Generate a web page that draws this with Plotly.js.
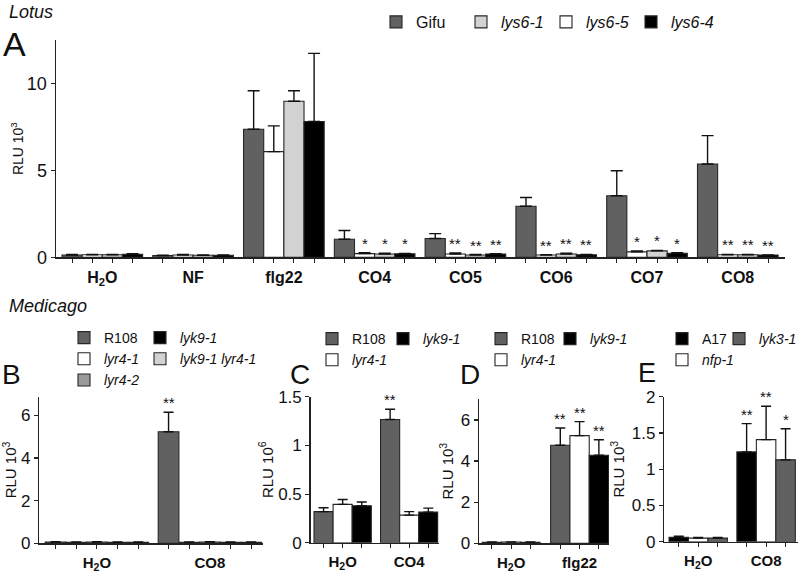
<!DOCTYPE html>
<html><head><meta charset="utf-8">
<script src="https://cdn.plot.ly/plotly-3.0.1.min.js"></script>
<style>html,body{margin:0;padding:0;background:#fff}#chart{width:802px;height:577px}</style>
</head><body><div id="chart"></div>
<script>
// ---------- Panel A (Lotus) ----------
const catsA = ['H<sub>2</sub>O', 'NF', 'flg22', 'CO4', 'CO5', 'CO6', 'CO7', 'CO8'];
const gifuVals  = [0.13, 0.10, 7.37, 1.04, 1.08, 2.94, 3.54, 5.37];
const gifuErr   = [0.03, 0.02, 2.21, 0.50, 0.28, 0.50, 1.44, 1.63];
const gifuSig   = ['', '', '', '', '', '', '', ''];
const lys65Vals = [0.15, 0.13, 6.08, 0.21, 0.19, 0.13, 0.31, 0.15];
const lys65Err  = [0.02, 0.03, 1.48, 0.05, 0.06, 0.02, 0.05, 0.02];
const lys65Sig  = ['', '', '', '*', '**', '**', '*', '**'];
const lys61Vals = [0.15, 0.12, 8.98, 0.19, 0.13, 0.19, 0.37, 0.15];
const lys61Err  = [0.02, 0.02, 0.60, 0.05, 0.03, 0.05, 0.03, 0.02];
const lys61Sig  = ['', '', '', '*', '**', '**', '*', '**'];
const lys64Vals = [0.17, 0.12, 7.81, 0.20, 0.19, 0.15, 0.23, 0.13];
const lys64Err  = [0.03, 0.02, 3.92, 0.02, 0.02, 0.02, 0.03, 0.01];
const lys64Sig  = ['', '', '', '*', '**', '**', '*', '**'];

// ---------- Panel B ----------
const catsB = ['H<sub>2</sub>O', 'CO8'];
const bR108 = [0.06, 5.23], bR108Err = [0.01, 0.91], bR108Sig = ['', '**'];
const bLyr41 = [0.05, 0.05], bLyr41Err = [0.01, 0.01];
const bLyr42 = [0.06, 0.06], bLyr42Err = [0.01, 0.01];
const bLyk91 = [0.05, 0.05], bLyk91Err = [0.01, 0.01];
const bDouble = [0.05, 0.05], bDoubleErr = [0.01, 0.01];

// ---------- Panel C ----------
const catsC = ['H<sub>2</sub>O', 'CO4'];
const cR108 = [0.32, 1.267], cR108Err = [0.04, 0.106], cR108Sig = ['', '**'];
const cLyr41 = [0.394, 0.284], cLyr41Err = [0.051, 0.036];
const cLyk91 = [0.38, 0.315], cLyk91Err = [0.038, 0.041];

// ---------- Panel D ----------
const catsD = ['H<sub>2</sub>O', 'flg22'];
const dR108 = [0.05, 4.77], dR108Err = [0.01, 0.84], dR108Sig = ['', '**'];
const dLyr41 = [0.06, 5.24], dLyr41Err = [0.01, 0.68], dLyr41Sig = ['', '**'];
const dLyk91 = [0.05, 4.28], dLyk91Err = [0.01, 0.76], dLyk91Sig = ['', '**'];

// ---------- Panel E ----------
const catsE = ['H<sub>2</sub>O', 'CO8'];
const eA17 = [0.06, 1.24], eA17Err = [0.015, 0.39], eA17Sig = ['', '**'];
const eNfp1 = [0.05, 1.41], eNfp1Err = [0.01, 0.46], eNfp1Sig = ['', '**'];
const eLyk31 = [0.05, 1.13], eLyk31Err = [0.01, 0.43], eLyk31Sig = ['', '*'];

// ---------- styles ----------
const DARK = '#616161', LIGHT = '#d2d2d2', MID = '#9a9a9a', WHITE = '#ffffff', BLACK = '#000000';
const FONT = 'Liberation Sans, Arial, Helvetica, sans-serif';
const W = 802, H = 577;
const px = v => v / W;
const py = v => 1 - v / H;

const traces = [];
const annotations = [];

function addPanel(cfg) {
  const N = cfg.series.length, w = cfg.barWidth;
  const pos = cfg.cats.map((_, i) => i);
  cfg.series.forEach((s, j) => {
    const off = (j - N / 2) * w;
    traces.push({
      type: 'bar', name: s.name, x: pos, y: s.vals,
      xaxis: cfg.xa, yaxis: cfg.ya, width: w, offset: off,
      marker: { color: s.color, line: { color: '#262626', width: 1.1 } },
      error_y: { type: 'data', symmetric: false, array: s.errs, arrayminus: s.errs.map(() => 0),
                 color: '#111', thickness: 1.4, width: cfg.cap },
      legend: s.legend, legendrank: s.rank || 1000, showlegend: true, hoverinfo: 'skip'
    });
    (s.sig || []).forEach((t, i) => {
      if (!t) return;
      annotations.push({
        xref: cfg.xa, yref: cfg.ya, x: i + off + w / 2, y: s.vals[i] + s.errs[i],
        text: t, showarrow: false, yanchor: 'bottom', xanchor: 'center', yshift: -1,
        font: { size: 15, family: FONT, color: '#111' }
      });
    });
  });
  return pos.flatMap(i => cfg.series.map((_, j) => i + (j - N / 2) * w + w / 2));
}

const minorA = addPanel({ xa: 'x', ya: 'y', cats: catsA, barWidth: 0.222, cap: 6, series: [
  { name: 'Gifu', vals: gifuVals, errs: gifuErr, sig: gifuSig, color: DARK, legend: 'legend', rank: 1 },
  { name: '<i>lys6-5</i>', vals: lys65Vals, errs: lys65Err, sig: lys65Sig, color: WHITE, legend: 'legend', rank: 3 },
  { name: '<i>lys6-1</i>', vals: lys61Vals, errs: lys61Err, sig: lys61Sig, color: LIGHT, legend: 'legend', rank: 2 },
  { name: '<i>lys6-4</i>', vals: lys64Vals, errs: lys64Err, sig: lys64Sig, color: BLACK, legend: 'legend', rank: 4 }
]});
const minorB = addPanel({ xa: 'x2', ya: 'y2', cats: catsB, barWidth: 0.183, cap: 5, series: [
  { name: 'R108', vals: bR108, errs: bR108Err, sig: bR108Sig, color: DARK, legend: 'legend2' },
  { name: '<i>lyr4-1</i>', vals: bLyr41, errs: bLyr41Err, color: WHITE, legend: 'legend2' },
  { name: '<i>lyr4-2</i>', vals: bLyr42, errs: bLyr42Err, color: MID, legend: 'legend2' },
  { name: '<i>lyk9-1</i>', vals: bLyk91, errs: bLyk91Err, color: BLACK, legend: 'legend3' },
  { name: '<i>lyk9-1 lyr4-1</i>', vals: bDouble, errs: bDoubleErr, color: LIGHT, legend: 'legend3' }
]});
const minorC = addPanel({ xa: 'x3', ya: 'y3', cats: catsC, barWidth: 0.287, cap: 5, series: [
  { name: 'R108', vals: cR108, errs: cR108Err, sig: cR108Sig, color: DARK, legend: 'legend4' },
  { name: '<i>lyr4-1</i>', vals: cLyr41, errs: cLyr41Err, color: WHITE, legend: 'legend4' },
  { name: '<i>lyk9-1</i>', vals: cLyk91, errs: cLyk91Err, color: BLACK, legend: 'legend5' }
]});
const minorD = addPanel({ xa: 'x4', ya: 'y4', cats: catsD, barWidth: 0.282, cap: 5, series: [
  { name: 'R108', vals: dR108, errs: dR108Err, sig: dR108Sig, color: DARK, legend: 'legend6' },
  { name: '<i>lyr4-1</i>', vals: dLyr41, errs: dLyr41Err, sig: dLyr41Sig, color: WHITE, legend: 'legend6' },
  { name: '<i>lyk9-1</i>', vals: dLyk91, errs: dLyk91Err, sig: dLyk91Sig, color: BLACK, legend: 'legend7' }
]});
const minorE = addPanel({ xa: 'x5', ya: 'y5', cats: catsE, barWidth: 0.287, cap: 5, series: [
  { name: 'A17', vals: eA17, errs: eA17Err, sig: eA17Sig, color: BLACK, legend: 'legend8' },
  { name: '<i>nfp-1</i>', vals: eNfp1, errs: eNfp1Err, sig: eNfp1Sig, color: WHITE, legend: 'legend8' },
  { name: '<i>lyk3-1</i>', vals: eLyk31, errs: eLyk31Err, sig: eLyk31Sig, color: DARK, legend: 'legend9' }
]});

function xAxis(dom, range, cats, minorVals, anchor, fsize) {
  return {
    domain: dom, range: range, anchor: anchor, fixedrange: true,
    tickmode: 'array', tickvals: cats.map((_, i) => i), ticktext: cats,
    ticks: '', showline: true, linecolor: '#222', linewidth: 1.5,
    showgrid: false, zeroline: false, ticklabelstandoff: 5,
    tickfont: { size: fsize, family: FONT, weight: 'bold', color: '#111' },
    minor: { tickmode: 'array', tickvals: minorVals, ticks: 'outside', ticklen: 4,
             tickwidth: 1, tickcolor: '#222', showgrid: false }
  };
}
function yAxis(dom, range, tv, title, anchor, fsize, tsize, standoff) {
  return {
    domain: dom, range: range, anchor: anchor, fixedrange: true,
    tickmode: 'array', tickvals: tv, ticks: 'outside', ticklen: 4, tickwidth: 1.2,
    tickcolor: '#222', showline: true, linecolor: '#222', linewidth: 1.5,
    showgrid: false, zeroline: false,
    tickfont: { size: fsize, family: FONT, color: '#111' },
    title: { text: title, font: { size: tsize, family: FONT, color: '#111' }, standoff: standoff }
  };
}

function legendCfg(x, y, size, extra) {
  return Object.assign({ x: px(x), y: py(y), xanchor: 'left', yanchor: 'top',
    bgcolor: 'rgba(0,0,0,0)', borderwidth: 0,
    font: { size: size, family: FONT, color: '#111' } }, extra || {});
}

const labels = [
  ['<i>Lotus</i>', 7, 12, 18],
  ['A', 1, 44, 34],
  ['<i>Medicago</i>', 7, 306, 18],
  ['B', 0, 374, 28],
  ['C', 288, 374, 28],
  ['D', 458, 374, 28],
  ['E', 636, 373, 27]
];
labels.forEach(l => annotations.push({
  xref: 'paper', yref: 'paper', x: px(l[1]), y: py(l[2]), text: l[0], showarrow: false,
  xanchor: 'left', yanchor: 'middle', font: { size: l[3], family: FONT, color: '#111' }
}));

const layout = {
  width: W, height: H, margin: { l: 0, r: 0, t: 0, b: 0 },
  paper_bgcolor: '#ffffff', plot_bgcolor: 'rgba(0,0,0,0)',
  barmode: 'overlay', showlegend: true,
  font: { family: FONT, color: '#111' },
  xaxis:  xAxis([px(56), px(785)], [-0.51, 7.52], catsA, minorA, 'y', 16),
  yaxis:  yAxis([py(257.3), py(40)], [0, 12.5], [0, 5, 10], 'RLU 10<sup>3</sup>', 'x', 18, 14, 0),
  xaxis2: xAxis([px(39.3), px(263)], [-0.51, 1.47], catsB, minorB, 'y2', 15),
  yaxis2: yAxis([py(543.3), py(396.7)], [0, 6.87], [0, 2, 4, 6], 'RLU 10<sup>3</sup>', 'x2', 17, 15, 2),
  xaxis3: xAxis([px(310.7), px(438.5)], [-0.48, 1.44], catsC, minorC, 'y3', 15),
  yaxis3: yAxis([py(542.7), py(396.7)], [0, 1.502], [0, 0.5, 1, 1.5], 'RLU 10<sup>6</sup>', 'x3', 17, 15, 1),
  xaxis4: xAxis([px(479), px(609)], [-0.47, 1.43], catsD, minorD, 'y4', 15),
  yaxis4: yAxis([py(543.3), py(399)], [0, 7.02], [0, 2, 4, 6], 'RLU 10<sup>3</sup>', 'x4', 17, 15, 3),
  xaxis5: xAxis([px(664.3), px(798)], [-0.5, 1.47], catsE, minorE, 'y5', 15),
  yaxis5: yAxis([py(541.7), py(396.7)], [0, 2.002], [0, 0.5, 1, 1.5, 2], 'RLU 10<sup>3</sup>', 'x5', 17, 15, 3),
  legend:  legendCfg(376, 5, 16, { orientation: 'h', entrywidth: 40, traceorder: 'normal' }),
  legend2: legendCfg(64, 322, 14),
  legend3: legendCfg(140, 322, 14),
  legend4: legendCfg(312, 323, 14),
  legend5: legendCfg(383, 323, 14),
  legend6: legendCfg(481, 323, 14),
  legend7: legendCfg(550, 323, 14),
  legend8: legendCfg(662, 323, 14),
  legend9: legendCfg(719, 323, 14),
  annotations: annotations
};

Plotly.newPlot('chart', traces, layout, { displayModeBar: false, staticPlot: true });
</script>
</body></html>
